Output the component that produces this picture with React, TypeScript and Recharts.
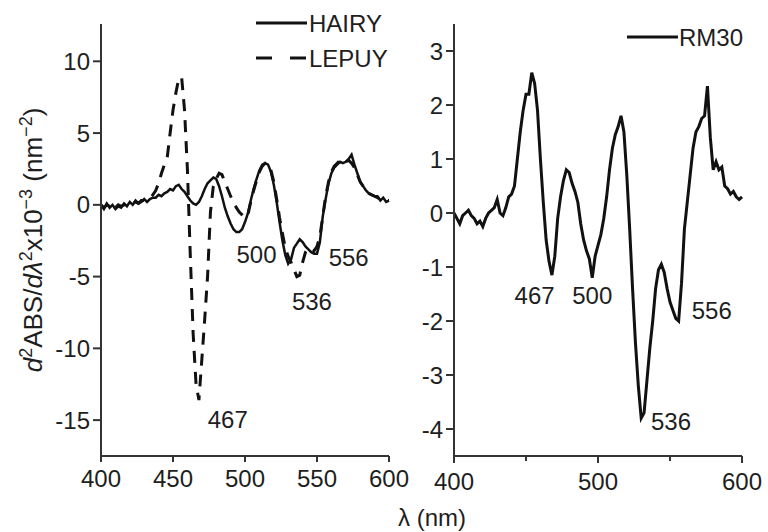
import React from "react";
import { LineChart, Line, XAxis, YAxis, ReferenceDot } from "recharts";

const FONT = "'Liberation Sans', Arial, Helvetica, sans-serif";
const INK = "#1e1e1e";

// wavelength grid (nm), shared by both panels
const wavelengths = [
  400, 402, 404, 406, 408, 410, 412, 414, 416, 418, 420, 422, 424, 426, 428, 430, 432, 434, 436, 438,
  440, 442, 444, 446, 448, 450, 452, 454, 456, 458, 460, 462, 464, 466, 468, 470, 472, 474, 476, 478,
  480, 482, 484, 486, 488, 490, 492, 494, 496, 498, 500, 502, 504, 506, 508, 510, 512, 514, 516, 518,
  520, 522, 524, 526, 528, 530, 532, 534, 536, 538, 540, 542, 544, 546, 548, 550, 552, 554, 556, 558,
  560, 562, 564, 566, 568, 570, 572, 574, 576, 578, 580, 582, 584, 586, 588, 590, 592, 594, 596, 598,
  600,
];

const hairy = [
  0.0, -0.3, 0.1, -0.2, 0.0, -0.3, -0.1, -0.2, 0.1, -0.1, 0.2, 0.0, 0.3, 0.1, 0.2, 0.4, 0.2, 0.4, 0.5, 0.5,
  0.7, 0.6, 0.8, 0.9, 1.1, 1.0, 1.3, 1.4, 1.1, 0.9, 0.6, 0.3, 0.1, 0.0, 0.2, 0.6, 1.1, 1.5, 1.7, 1.9,
  1.8, 1.3, 0.6, -0.2, -0.8, -1.3, -1.7, -1.9, -1.9, -1.7, -1.2, -0.6, 0.3, 1.1, 1.8, 2.4, 2.8, 2.9, 2.8, 2.3,
  1.4, 0.2, -1.2, -2.5, -3.5, -4.1, -3.8, -3.0, -2.7, -2.4, -2.6, -2.9, -3.1, -3.3, -3.4, -3.4, -2.6, -0.8, 0.4, 1.5,
  2.2, 2.6, 2.8, 3.0, 2.9, 3.0, 3.2, 3.5, 2.8, 2.2, 1.6, 1.3, 1.0, 0.8, 0.7, 0.6, 0.6, 0.3, 0.5, 0.2,
  0.3,
];

const lepuy = [
  0.0, -0.2, 0.0, -0.1, 0.1, -0.2, 0.0, -0.1, 0.0, 0.1, 0.0, 0.1, 0.2, 0.1, 0.3, 0.3, 0.4, 0.5, 0.7, 1.0,
  1.5, 2.2, 2.8, 3.3, 5.0, 6.6, 7.8, 8.8, 8.9, 6.6, 2.5, -3.5, -9.0, -12.5, -13.6, -10.8, -8.0, -5.0, -0.5, 1.3,
  1.8, 2.2, 2.1, 1.6, 1.1, 0.6, 0.2, -0.2, -0.5, -0.7, -0.9, -0.7, 0.2, 1.0, 1.7, 2.3, 2.7, 2.9, 2.8, 2.4,
  1.6, 0.4, -0.9, -2.0, -3.0, -3.6, -4.0, -4.5, -5.0, -4.9, -4.0, -3.3, -3.0, -3.1, -3.2, -2.9, -2.2, -0.8, 0.6, 1.6,
  2.3, 2.7, 2.9, 3.1, 2.9, 3.0, 3.1, 2.9, 2.6, 2.1, 1.6, 1.3, 1.0, 0.8, 0.7, 0.6, 0.5, 0.4, 0.4, 0.3,
  0.3,
];

const rm30 = [
  0.0, -0.1, -0.2, -0.05, 0.0, 0.05, -0.05, -0.1, -0.2, -0.15, -0.25, -0.1, 0.0, 0.05, 0.1, 0.25, 0.0, -0.05, 0.1, 0.3,
  0.35, 0.5, 1.0, 1.5, 1.9, 2.2, 2.2, 2.6, 2.4, 1.9, 1.0, 0.2, -0.5, -0.9, -1.15, -0.8, -0.1, 0.3, 0.6, 0.8,
  0.75, 0.55, 0.4, 0.2, -0.2, -0.5, -0.7, -0.85, -1.2, -0.8, -0.6, -0.4, -0.1, 0.3, 0.8, 1.2, 1.45, 1.6, 1.8, 1.5,
  0.7, -0.3, -1.4, -2.4, -3.2, -3.8, -3.7, -3.1, -2.5, -2.0, -1.4, -1.05, -0.95, -1.1, -1.4, -1.65, -1.8, -1.95, -2.0, -1.3,
  -0.3, 0.2, 0.7, 1.2, 1.5, 1.6, 1.75, 1.8, 2.35, 1.4, 0.8, 0.95, 0.8, 0.85, 0.5, 0.45, 0.35, 0.4, 0.3, 0.25,
  0.3,
];

const xTicks = [400, 450, 500, 550, 600];
const leftYTicks = [-15, -10, -5, 0, 5, 10];
const rightYTicks = [-4, -3, -2, -1, 0, 1, 2, 3];

// peak annotations: [wavelength, value] where the label is centred
const leftPeaks = [
  { x: 508, y: -3.5, text: "500" },
  { x: 572, y: -3.7, text: "556" },
  { x: 546.5, y: -6.8, text: "536" },
  { x: 488, y: -15.0, text: "467" },
];
const rightPeaks = [
  { x: 456, y: -1.54, text: "467" },
  { x: 496, y: -1.54, text: "500" },
  { x: 579, y: -1.81, text: "556" },
  { x: 550.7, y: -3.87, text: "536" },
];

const leftData = wavelengths.map((wl, i) => ({ wl, hairy: hairy[i], lepuy: lepuy[i] }));
const rightData = wavelengths.map((wl, i) => ({ wl, rm30: rm30[i] }));

const tickStyle = { fontSize: 24, fill: INK, fontFamily: FONT };
const axisLine = { stroke: "#333", strokeWidth: 2 };

function PeakLabel({ viewBox, value }: any) {
  const cx = viewBox?.cx ?? viewBox?.x ?? 0;
  const cy = viewBox?.cy ?? viewBox?.y ?? 0;
  return (
    <text x={cx} y={cy} dy={8} textAnchor="middle" fontSize={24} fill={INK} fontFamily={FONT}>
      {value}
    </text>
  );
}

function MinorXTick({ x, y, payload }: any) {
  const major = payload.value % 100 === 0;
  return (
    <g>
      <line x1={x} x2={x} y1={y - 8} y2={y - 8 + (major ? 7 : 5)} stroke="#333" strokeWidth={2} />
      {major && (
        <text x={x} y={y + 26} textAnchor="middle" fontSize={24} fill={INK} fontFamily={FONT}>
          {payload.value}
        </text>
      )}
    </g>
  );
}

export default function App() {
  return (
    <div style={{ position: "absolute", left: 0, top: 0, width: 768, height: 532, background: "#fff", fontFamily: FONT }}>
      <div style={{ position: "absolute", left: 0, top: 0 }}>
        <LineChart width={420} height={532} data={leftData} margin={{ top: 24, right: 31, bottom: 0, left: 0 }}>
          <XAxis
            dataKey="wl"
            type="number"
            domain={[400, 600]}
            ticks={xTicks}
            height={76}
            tickSize={6}
            tickMargin={8}
            tick={tickStyle}
            axisLine={axisLine}
            tickLine={axisLine}
          />
          <YAxis
            type="number"
            domain={[-17.5, 12.6]}
            ticks={leftYTicks}
            width={101}
            tickSize={8}
            tickMargin={3}
            tick={tickStyle}
            axisLine={axisLine}
            tickLine={axisLine}
            allowDataOverflow
          />
          <Line dataKey="hairy" stroke="#111" strokeWidth={2.5} dot={false} isAnimationActive={false} />
          <Line
            dataKey="lepuy"
            stroke="#111"
            strokeWidth={3}
            strokeDasharray="12 9"
            dot={false}
            isAnimationActive={false}
          />
          {leftPeaks.map((p) => (
            <ReferenceDot
              key={p.text + p.x}
              x={p.x}
              y={p.y}
              r={0}
              stroke="none"
              label={<PeakLabel value={p.text} />}
            />
          ))}
        </LineChart>
      </div>
      <div style={{ position: "absolute", left: 390, top: 0 }}>
        <LineChart width={378} height={532} data={rightData} margin={{ top: 24, right: 26, bottom: 0, left: 0 }}>
          <XAxis
            dataKey="wl"
            type="number"
            domain={[400, 600]}
            ticks={xTicks}
            height={76}
            tickLine={false}
            tick={<MinorXTick />}
            tickSize={8}
            tickMargin={0}
            axisLine={axisLine}
          />
          <YAxis
            type="number"
            domain={[-4.5, 3.5]}
            ticks={rightYTicks}
            width={64}
            tickSize={8}
            tickMargin={3}
            tick={tickStyle}
            axisLine={axisLine}
            tickLine={axisLine}
            allowDataOverflow
          />
          <Line dataKey="rm30" stroke="#111" strokeWidth={3} dot={false} isAnimationActive={false} />
          {rightPeaks.map((p) => (
            <ReferenceDot
              key={p.text + p.x}
              x={p.x}
              y={p.y}
              r={0}
              stroke="none"
              label={<PeakLabel value={p.text} />}
            />
          ))}
        </LineChart>
      </div>
      <svg width={768} height={532} style={{ position: "absolute", left: 0, top: 0, pointerEvents: "none" }}>
        {/* legends */}
        <line x1={256} x2={307} y1={23} y2={23} stroke="#111" strokeWidth={3} />
        <text x={309} y={32} fontSize={24} fill={INK} fontFamily={FONT}>HAIRY</text>
        <line x1={256} x2={307} y1={58} y2={58} stroke="#111" strokeWidth={3} strokeDasharray="16 18" />
        <text x={309} y={67} fontSize={24} fill={INK} fontFamily={FONT}>LEPUY</text>
        <line x1={627} x2={678} y1={37} y2={37} stroke="#111" strokeWidth={3} />
        <text x={679} y={46} fontSize={24} fill={INK} fontFamily={FONT}>RM30</text>
        {/* axis titles */}
        <text transform="translate(42,240) rotate(-90)" textAnchor="middle" fontSize={26} fill={INK} fontFamily={FONT}>
          <tspan fontStyle="italic">d</tspan>
          <tspan dy={-10} fontSize={18}>2</tspan>
          <tspan dy={10}>ABS/</tspan>
          <tspan fontStyle="italic">d</tspan>
          <tspan fontStyle="italic">λ</tspan>
          <tspan dy={-10} fontSize={18}>2</tspan>
          <tspan dy={10}>x10</tspan>
          <tspan dy={-10} fontSize={18}>−3</tspan>
          <tspan dy={10}> (nm</tspan>
          <tspan dy={-10} fontSize={18}>−2</tspan>
          <tspan dy={10}>)</tspan>
        </text>
        <text x={432} y={526} textAnchor="middle" fontSize={24} fill={INK} fontFamily={FONT}>λ (nm)</text>
      </svg>
    </div>
  );
}
